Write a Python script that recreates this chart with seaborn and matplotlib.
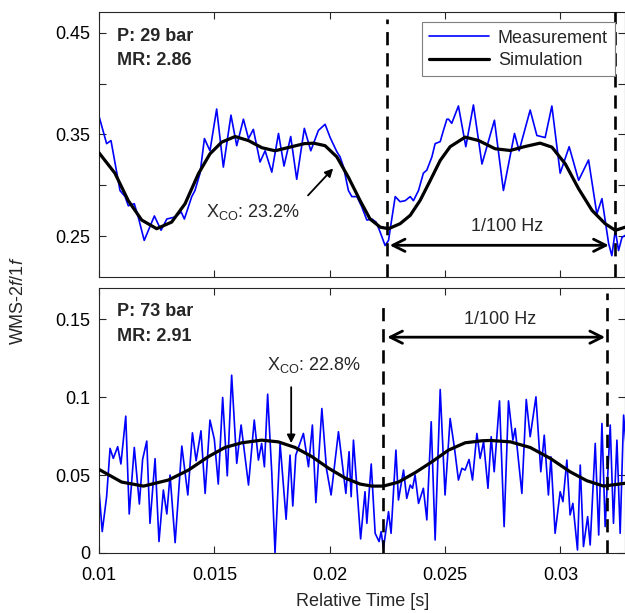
import matplotlib
matplotlib.use("Agg")
import matplotlib.pyplot as plt
import pandas as pd
import seaborn as sns

# measurement / simulation, 29 bar
t_top_meas = [0.01000, 0.01033, 0.01052, 0.01091, 0.01113, 0.01127, 0.01153, 0.01170, 0.01196, 0.01240,
              0.01269, 0.01294, 0.01330, 0.01356, 0.01370, 0.01402, 0.01416, 0.01438, 0.01457, 0.01481,
              0.01510, 0.01539, 0.01572, 0.01597, 0.01626, 0.01648, 0.01669, 0.01698, 0.01720, 0.01749,
              0.01778, 0.01802, 0.01831, 0.01857, 0.01890, 0.01918, 0.01951, 0.01980, 0.02002, 0.02031,
              0.02045, 0.02060, 0.02081, 0.02096, 0.02118, 0.02139, 0.02161, 0.02183, 0.02201, 0.02219,
              0.02240, 0.02255, 0.02269, 0.02284, 0.02305, 0.02327, 0.02349, 0.02363, 0.02385, 0.02406,
              0.02421, 0.02443, 0.02457, 0.02479, 0.02493, 0.02508, 0.02515, 0.02529, 0.02558, 0.02590,
              0.02623, 0.02660, 0.02714, 0.02753, 0.02801, 0.02821, 0.02869, 0.02898, 0.02934, 0.02963,
              0.02999, 0.03038, 0.03079, 0.03122, 0.03158, 0.03180, 0.03209, 0.03223, 0.03238, 0.03252,
              0.03267, 0.03281, 0.03295]
v_top_meas = [0.368, 0.341, 0.344, 0.295, 0.289, 0.280, 0.282, 0.269, 0.246, 0.270,
              0.256, 0.267, 0.269, 0.274, 0.267, 0.289, 0.295, 0.312, 0.346, 0.334,
              0.375, 0.318, 0.369, 0.339, 0.365, 0.346, 0.355, 0.323, 0.334, 0.313,
              0.351, 0.319, 0.348, 0.306, 0.356, 0.334, 0.354, 0.360, 0.347, 0.333,
              0.328, 0.318, 0.295, 0.289, 0.289, 0.279, 0.266, 0.267, 0.264, 0.254,
              0.241, 0.246, 0.267, 0.289, 0.284, 0.285, 0.289, 0.285, 0.295, 0.312,
              0.315, 0.328, 0.341, 0.343, 0.354, 0.365, 0.365, 0.361, 0.378, 0.338,
              0.379, 0.321, 0.364, 0.295, 0.351, 0.334, 0.374, 0.349, 0.347, 0.378,
              0.312, 0.338, 0.305, 0.325, 0.272, 0.287, 0.243, 0.231, 0.256, 0.236,
              0.249, 0.251, 0.248]

t_top_sim = [0.01000, 0.01069, 0.01127, 0.01185, 0.01250, 0.01315, 0.01373, 0.01431, 0.01481, 0.01532,
             0.01590, 0.01648, 0.01706, 0.01763, 0.01828, 0.01890, 0.01930, 0.01980, 0.02031, 0.02081,
             0.02132, 0.02175, 0.02219, 0.02255, 0.02305, 0.02349, 0.02392, 0.02436, 0.02479, 0.02522,
             0.02587, 0.02645, 0.02717, 0.02782, 0.02847, 0.02912, 0.02963, 0.03021, 0.03079, 0.03137,
             0.03194, 0.03238, 0.03295]
v_top_sim = [0.332, 0.312, 0.285, 0.266, 0.2575, 0.264, 0.282, 0.3115, 0.331, 0.3425,
             0.348, 0.344, 0.337, 0.334, 0.3376, 0.341, 0.3415, 0.339, 0.328, 0.308,
             0.285, 0.267, 0.259, 0.2575, 0.2624, 0.2706, 0.2853, 0.3049, 0.3245, 0.338,
             0.3474, 0.3441, 0.336, 0.3343, 0.3382, 0.3415, 0.3376, 0.3212, 0.2967, 0.2755,
             0.2624, 0.2559, 0.260]

# measurement / simulation, 73 bar
t_bot_meas = [0.01000, 0.01014, 0.01033, 0.01048, 0.01062, 0.01081, 0.01095, 0.01116, 0.01131, 0.01153,
              0.01175, 0.01189, 0.01207, 0.01221, 0.01243, 0.01260, 0.01279, 0.01294, 0.01308, 0.01330,
              0.01359, 0.01385, 0.01405, 0.01421, 0.01442, 0.01460, 0.01481, 0.01500, 0.01517, 0.01536,
              0.01556, 0.01575, 0.01597, 0.01616, 0.01648, 0.01673, 0.01691, 0.01705, 0.01717, 0.01731,
              0.01749, 0.01763, 0.01785, 0.01811, 0.01828, 0.01840, 0.01853, 0.01886, 0.01908, 0.01925,
              0.01940, 0.01966, 0.01986, 0.02006, 0.02038, 0.02070, 0.02084, 0.02093, 0.02103, 0.02134,
              0.02153, 0.02161, 0.02180, 0.02197, 0.02214, 0.02223, 0.02233, 0.02255, 0.02266, 0.02287,
              0.02298, 0.02320, 0.02334, 0.02349, 0.02359, 0.02370, 0.02385, 0.02406, 0.02421, 0.02440,
              0.02457, 0.02479, 0.02500, 0.02522, 0.02541, 0.02558, 0.02573, 0.02587, 0.02604, 0.02619,
              0.02638, 0.02652, 0.02667, 0.02686, 0.02700, 0.02713, 0.02736, 0.02756, 0.02775, 0.02794,
              0.02804, 0.02833, 0.02852, 0.02869, 0.02894, 0.02915, 0.02930, 0.02948, 0.02959, 0.02977,
              0.02999, 0.03011, 0.03028, 0.03042, 0.03054, 0.03074, 0.03086, 0.03100, 0.03118, 0.03129,
              0.03151, 0.03166, 0.03180, 0.03194, 0.03216, 0.03230, 0.03245, 0.03259, 0.03274, 0.03295]
v_bot_meas = [0.0404, 0.0137, 0.0361, 0.0671, 0.0607, 0.0682, 0.0571, 0.0878, 0.0250, 0.0677,
              0.0314, 0.0600, 0.0718, 0.0190, 0.0605, 0.0073, 0.0404, 0.0250, 0.0500, 0.0066,
              0.0686, 0.0372, 0.0771, 0.0592, 0.0784, 0.0382, 0.0853, 0.0729, 0.0442, 0.0998,
              0.0495, 0.1141, 0.0575, 0.0821, 0.0436, 0.0853, 0.0596, 0.0703, 0.0553, 0.1019,
              0.0511, 0.0002, 0.0703, 0.0216, 0.0628, 0.0301, 0.0628, 0.0767, 0.0553, 0.0821,
              0.0323, 0.0927, 0.0540, 0.0372, 0.0778, 0.0382, 0.0650, 0.0361, 0.0724, 0.0090,
              0.0393, 0.0190, 0.0571, 0.0126, 0.0073, 0.0137, 0.0030, 0.0265, 0.0126, 0.0660,
              0.0340, 0.0532, 0.0350, 0.0436, 0.0415, 0.0500, 0.0318, 0.0415, 0.0212, 0.0842,
              0.0083, 0.1049, 0.0372, 0.0863, 0.0671, 0.0468, 0.0543, 0.0532, 0.0600, 0.0468,
              0.0767, 0.0607, 0.0714, 0.0415, 0.0746, 0.0521, 0.0976, 0.0169, 0.0976, 0.0724,
              0.0799, 0.0382, 0.0985, 0.0746, 0.1002, 0.0521, 0.0756, 0.0372, 0.0617, 0.0126,
              0.0393, 0.0329, 0.0596, 0.0244, 0.0318, 0.0019, 0.0564, 0.0041, 0.0233, 0.0051,
              0.0703, 0.0115, 0.0831, 0.0169, 0.0821, 0.0190, 0.0724, 0.0126, 0.0885, 0.0500]

t_bot_sim = [0.01000, 0.01098, 0.01193, 0.01301, 0.01388, 0.01474, 0.01546, 0.01619, 0.01705, 0.01777,
             0.01850, 0.01923, 0.01996, 0.02069, 0.02132, 0.02183, 0.02233, 0.02298, 0.02370, 0.02443,
             0.02515, 0.02587, 0.02660, 0.02696, 0.02783, 0.02869, 0.02956, 0.03042, 0.03114, 0.03187,
             0.03295]
v_bot_sim = [0.0536, 0.0455, 0.0429, 0.0468, 0.0532, 0.0618, 0.0677, 0.0707, 0.0724, 0.0713,
             0.0677, 0.0618, 0.0543, 0.0479, 0.0442, 0.0429, 0.0429, 0.0455, 0.0515, 0.0585,
             0.0660, 0.0707, 0.0720, 0.0722, 0.0713, 0.0677, 0.0607, 0.0521, 0.0464, 0.0429,
             0.0450]

panels = [
    dict(tm=t_top_meas, vm=v_top_meas, ts=t_top_sim, vs=v_top_sim,
         ylim=(0.21, 0.47), yticks=[0.25, 0.30, 0.35, 0.40, 0.45],
         ylabels=['0.25', '', '0.35', '', '0.45'],
         info=['P: 29 bar', 'MR: 2.86'], info_y=[0.909, 0.819],
         period=(0.0225, 0.03235), dash_top=[0.976, 1.0],
         arrow=(0.0226, 0.0321, 0.2412), hz=(0.02769, 0.2598),
         xco='X$_\\mathregular{CO}$: 23.2%', xco_pos=(0.01464, 0.2686),
         xco_tail=(0.01906, 0.2902), xco_tip=(0.02015, 0.3167)),
    dict(tm=t_bot_meas, vm=v_bot_meas, ts=t_bot_sim, vs=v_bot_sim,
         ylim=(0.0, 0.17), yticks=[0.0, 0.05, 0.10, 0.15],
         ylabels=['0', '0.05', '0.1', '0.15'],
         info=['P: 73 bar', 'MR: 2.91'], info_y=[0.913, 0.819],
         period=(0.0223, 0.0320), dash_top=[0.93, 0.98],
         arrow=(0.02249, 0.03194, 0.1385), hz=(0.02739, 0.150),
         xco='X$_\\mathregular{CO}$: 22.8%', xco_pos=(0.01729, 0.1173),
         xco_tail=(0.01833, 0.1064), xco_tip=(0.01833, 0.0705)),
]

sns.set_theme(style='ticks')
plt.rcParams['font.family'] = ['Liberation Sans', 'DejaVu Sans']
plt.rcParams['mathtext.fontset'] = 'custom'
plt.rcParams['mathtext.rm'] = 'Liberation Sans'
plt.rcParams['mathtext.it'] = 'Liberation Sans:italic'

fig = plt.figure(figsize=(6.25, 6.13), dpi=100)
axes = [fig.add_axes([0.1584, 0.548, 0.8416, 0.432]),
        fig.add_axes([0.1584, 0.098, 0.8416, 0.432])]

for i, (ax, p) in enumerate(zip(axes, panels)):
    dm = pd.DataFrame({'t': p['tm'], 'v': p['vm']})
    ds = pd.DataFrame({'t': p['ts'], 'v': p['vs']})
    sns.lineplot(data=dm, x='t', y='v', ax=ax, color='#0000ff', lw=1.2,
                 estimator=None, sort=False, label='Measurement', zorder=2)
    sns.lineplot(data=ds, x='t', y='v', ax=ax, color='black', lw=2.3,
                 estimator=None, sort=False, label='Simulation', zorder=3)
    for xv, top in zip(p['period'], p['dash_top']):
        ax.axvline(xv, ymin=0, ymax=top, color='black', lw=1.9,
                   ls=(0, (5, 3)), zorder=4)

    ax.set_xlim(0.01, 0.0328)
    ax.set_ylim(*p['ylim'])
    ax.set_yticks(p['yticks'])
    ax.set_yticklabels(p['ylabels'])
    ax.set_xticks([0.01, 0.015, 0.02, 0.025, 0.03])
    if i == 0:
        ax.set_xticklabels([])
    else:
        ax.set_xticklabels(['0.01', '0.015', '0.02', '0.025', '0.03'])
    ax.set_xlabel('')
    ax.set_ylabel('')
    ax.tick_params(direction='in', top=True, right=True, length=5, width=0.8,
                   labelsize=13, colors='#262626', labelcolor='black')
    ax.tick_params(axis='y', pad=6)
    ax.tick_params(axis='x', pad=10)
    for s in ax.spines.values():
        s.set_visible(True)
        s.set_linewidth(0.8)
        s.set_color('#262626')

    for txt, yy in zip(p['info'], p['info_y']):
        ax.text(0.034, yy, txt, transform=ax.transAxes, fontsize=13,
                fontweight='bold', ha='left', va='center')

    x0, x1, ya = p['arrow']
    ax.annotate('', xy=(x0, ya), xytext=(x1, ya),
                arrowprops=dict(arrowstyle='<->', lw=2.0, color='black',
                                mutation_scale=22, shrinkA=0, shrinkB=0))
    ax.text(p['hz'][0], p['hz'][1], '1/100 Hz', fontsize=13,
            ha='center', va='center')

    ax.text(p['xco_pos'][0], p['xco_pos'][1], p['xco'], fontsize=13,
            ha='left', va='baseline')
    ax.annotate('', xy=p['xco_tip'], xytext=p['xco_tail'],
                arrowprops=dict(arrowstyle='-|>', lw=1.3, color='black',
                                mutation_scale=12, shrinkA=0, shrinkB=0))

    if i == 0:
        leg = ax.legend(loc='upper right', bbox_to_anchor=(0.981, 0.962),
                        borderaxespad=0, fontsize=13, handlelength=3.3,
                        frameon=True, fancybox=False, framealpha=1,
                        edgecolor='#7f7f7f', borderpad=0.4, labelspacing=0.3,
                        handletextpad=0.5)
        leg.get_frame().set_linewidth(0.8)
        leg.set_zorder(10)
    else:
        ax.get_legend().remove()

fig.text(0.581, 0.019, 'Relative Time [s]', fontsize=13, ha='center', va='center')
fig.text(0.029, 0.51, 'WMS-2$\\mathit{f}$/1$\\mathit{f}$', fontsize=13,
         ha='center', va='center', rotation=90)

fig.savefig('out.png', dpi=100)
